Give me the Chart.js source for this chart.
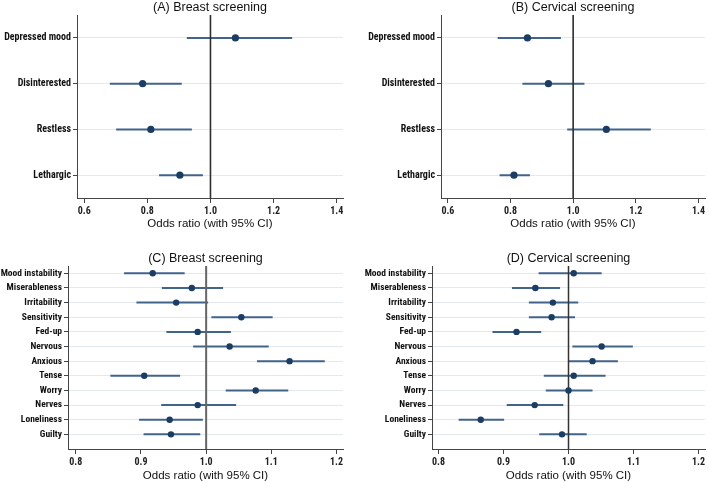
<!DOCTYPE html>
<html>
<head>
<meta charset="utf-8">
<script src="https://cdn.jsdelivr.net/npm/chart.js@4.4.1/dist/chart.umd.min.js"></script>
<style>
  body { margin: 0; background: #fff; width: 709px; height: 483px; position: relative; overflow: hidden; }
  canvas { position: absolute; }
</style>
</head>
<body>
<canvas id="chartA" width="354" height="236" style="left:0;top:0"></canvas>
<canvas id="chartB" width="355" height="236" style="left:354px;top:0"></canvas>
<canvas id="chartC" width="354" height="247" style="left:0;top:236px"></canvas>
<canvas id="chartD" width="355" height="247" style="left:354px;top:236px"></canvas>
<script>
// symptoms, top row (A, B)
const topSymptoms = ['Depressed mood', 'Disinterested', 'Restless', 'Lethargic'];
const breastTopOR = [1.079, 0.785, 0.811, 0.903];
const breastTopLo = [0.925, 0.681, 0.701, 0.837];
const breastTopHi = [1.259, 0.909, 0.941, 0.976];
const cervicalTopOR = [0.854, 0.921, 1.106, 0.811];
const cervicalTopLo = [0.759, 0.838, 0.981, 0.765];
const cervicalTopHi = [0.961, 1.036, 1.248, 0.862];
const topTicks = [0.6, 0.8, 1.0, 1.2, 1.4];

// symptoms, bottom row (C, D)
const bottomSymptoms = ['Mood instability', 'Miserableness', 'Irritability', 'Sensitivity', 'Fed-up',
  'Nervous', 'Anxious', 'Tense', 'Worry', 'Nerves', 'Loneliness', 'Guilty'];
const breastBottomOR = [0.918, 0.978, 0.954, 1.054, 0.987, 1.036, 1.128, 0.905, 1.076, 0.987, 0.944, 0.946];
const breastBottomLo = [0.874, 0.932, 0.893, 1.008, 0.939, 0.980, 1.078, 0.853, 1.030, 0.931, 0.897, 0.904];
const breastBottomHi = [0.967, 1.026, 1.003, 1.102, 1.038, 1.096, 1.182, 0.960, 1.126, 1.046, 0.995, 0.991];
const cervicalBottomOR = [1.008, 0.949, 0.976, 0.974, 0.920, 1.051, 1.037, 1.008, 1.000, 0.948, 0.865, 0.990];
const cervicalBottomLo = [0.954, 0.913, 0.939, 0.939, 0.883, 1.006, 1.000, 0.962, 0.965, 0.905, 0.831, 0.955];
const cervicalBottomHi = [1.051, 0.987, 1.015, 1.010, 0.958, 1.099, 1.076, 1.057, 1.037, 0.992, 0.901, 1.028];
const bottomTicks = [0.8, 0.9, 1.0, 1.1, 1.2];

const labelFont = "'Roboto Condensed', 'DejaVu Sans Condensed', sans-serif";
const textFont = "'Liberation Sans', Arial, sans-serif";

function drawForest(id, cfg) {
  const ctx = document.getElementById(id).getContext('2d');

  const points = cfg.or.map((v, i) => ({x: v, y: i}));
  const ciSegments = [];
  cfg.lo.forEach((lo, i) => {
    ciSegments.push({x: lo, y: i}, {x: cfg.hi[i], y: i}, {x: cfg.hi[i], y: null});
  });

  new Chart(ctx, {
    type: 'scatter',
    data: {
      datasets: [
        {
          data: points,
          backgroundColor: '#1c3d63',
          borderWidth: 0,
          pointRadius: cfg.radius
        },
        {
          // null line at OR = 1
          data: [{x: 1, y: -0.5}, {x: 1, y: cfg.yMax}],
          showLine: true,
          borderColor: cfg.refColor,
          borderWidth: cfg.refWidth,
          pointRadius: 0
        },
        {
          data: ciSegments,
          showLine: true,
          spanGaps: false,
          borderColor: '#41648b',
          borderWidth: 2,
          pointRadius: 0
        }
      ]
    },
    options: {
      responsive: false,
      animation: false,
      layout: {padding: {top: cfg.padTop, right: cfg.padRight, left: 0, bottom: 0}},
      plugins: {
        legend: {display: false},
        tooltip: {enabled: false},
        title: {
          display: true,
          text: cfg.title,
          fullSize: false,
          color: '#111',
          font: {family: textFont, size: 12.5, weight: 'normal', lineHeight: 1.2},
          padding: 0
        }
      },
      scales: {
        x: {
          type: 'linear',
          min: cfg.xMin,
          max: cfg.xMax,
          afterBuildTicks: scale => { scale.ticks = cfg.ticks.map(v => ({value: v})); },
          afterFit: scale => { scale.height = cfg.xHeight; },
          ticks: {
            padding: 2,
            color: '#222',
            font: {family: labelFont, size: 10, weight: 'bold'},
            callback: v => v.toFixed(1)
          },
          grid: {drawOnChartArea: false, drawTicks: true, tickLength: 5, tickColor: '#444'},
          border: {display: true, color: '#444', width: 1},
          title: {
            display: true,
            text: 'Odds ratio (with 95% CI)',
            color: '#111',
            font: {family: textFont, size: 11.5},
            padding: {top: 0, bottom: cfg.xTitlePad}
          }
        },
        y: {
          type: 'linear',
          reverse: true,
          min: -0.5,
          max: cfg.yMax,
          afterBuildTicks: scale => { scale.ticks = cfg.labels.map((_, i) => ({value: i})); },
          afterFit: scale => { scale.width = cfg.yWidth; },
          ticks: {
            padding: 2,
            color: '#111',
            font: {family: labelFont, size: cfg.labelSize, weight: 'bold'},
            callback: v => cfg.labels[v]
          },
          grid: {color: '#e2e9ef', lineWidth: 1, drawTicks: true, tickLength: 4, tickColor: '#444'},
          border: {display: true, color: '#444', width: 1}
        }
      }
    }
  });
}

drawForest('chartA', {
  title: '(A) Breast screening', labels: topSymptoms,
  or: breastTopOR, lo: breastTopLo, hi: breastTopHi, ticks: topTicks,
  xMin: 0.577, xMax: 1.42, yMax: 3.5, yWidth: 77, padRight: 11, padTop: 0,
  xHeight: 38, xTitlePad: 5, radius: 3.6, labelSize: 10, refColor: '#2e2e2e', refWidth: 1.6
});
drawForest('chartB', {
  title: '(B) Cervical screening', labels: topSymptoms,
  or: cervicalTopOR, lo: cervicalTopLo, hi: cervicalTopHi, ticks: topTicks,
  xMin: 0.578, xMax: 1.421, yMax: 3.5, yWidth: 87, padRight: 2, padTop: 0,
  xHeight: 38, xTitlePad: 5, radius: 3.6, labelSize: 10, refColor: '#2e2e2e', refWidth: 1.6
});
drawForest('chartC', {
  title: '(C) Breast screening', labels: bottomSymptoms,
  or: breastBottomOR, lo: breastBottomLo, hi: breastBottomHi, ticks: bottomTicks,
  xMin: 0.788, xMax: 1.21, yMax: 12, yWidth: 68, padRight: 11, padTop: 15,
  xHeight: 34, xTitlePad: 0, radius: 3.2, labelSize: 9.5, refColor: '#666', refWidth: 2
});
drawForest('chartD', {
  title: '(D) Cervical screening', labels: bottomSymptoms,
  or: cervicalBottomOR, lo: cervicalBottomLo, hi: cervicalBottomHi, ticks: bottomTicks,
  xMin: 0.79, xMax: 1.21, yMax: 12, yWidth: 78, padRight: 2, padTop: 15,
  xHeight: 34, xTitlePad: 0, radius: 3.2, labelSize: 9.5, refColor: '#333', refWidth: 1.5
});
</script>
</body>
</html>
